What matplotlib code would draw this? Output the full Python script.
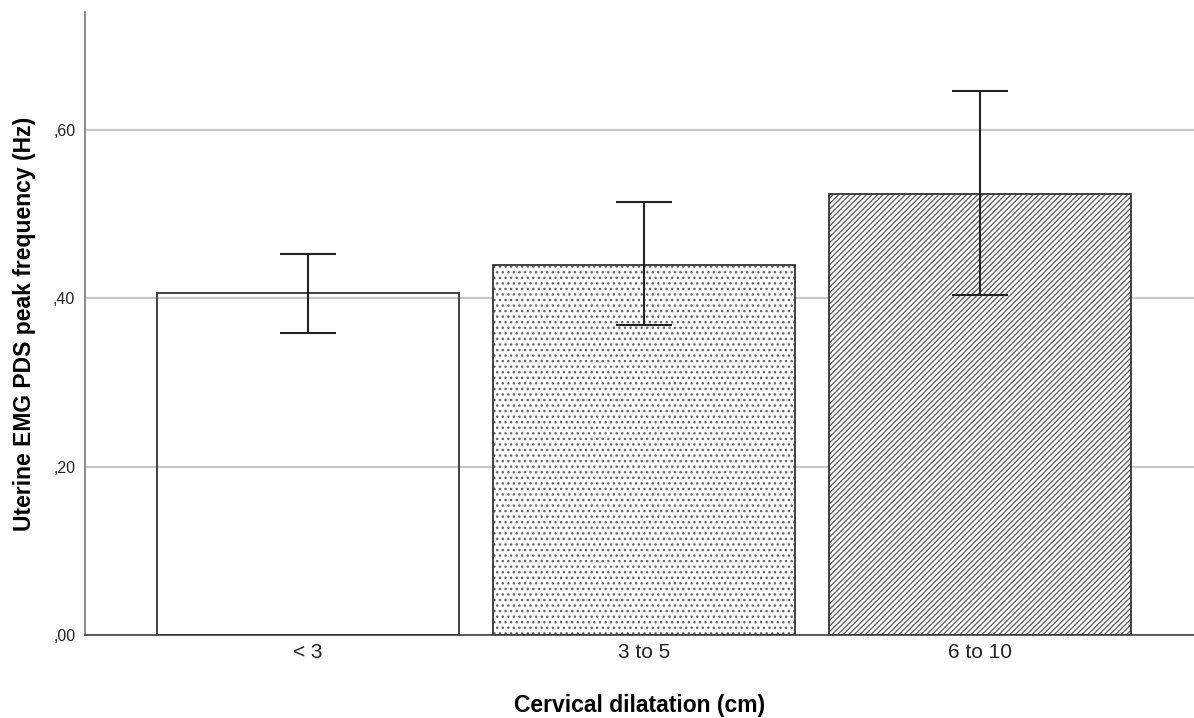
import numpy as np
import matplotlib
matplotlib.use("Agg")
import matplotlib.pyplot as plt

categories = ["< 3", "3 to 5", "6 to 10"]
means = [0.406, 0.440, 0.524]
err_low = [0.359, 0.368, 0.404]
err_high = [0.453, 0.515, 0.646]
hatches = [None, "...", "//////"]
yticks = [0.0, 0.2, 0.4, 0.6]
ytick_labels = [",00", ",20", ",40", ",60"]

plt.rcParams["font.family"] = ["Liberation Sans", "DejaVu Sans"]

fig = plt.figure(figsize=(11.94, 7.18), dpi=100)
ax = fig.add_axes([0.0712, 0.1156, 0.9288, 0.8674])

x = np.arange(len(categories))
ax.set_axisbelow(True)
ax.yaxis.grid(True, color="#c8c8c8", lw=1.5)

for xi, m, h in zip(x, means, hatches):
    if h:
        ax.bar(xi, m, width=0.9, facecolor="white", edgecolor="#666666", hatch=h, lw=0, zorder=2)
    ax.bar(xi, m, width=0.9, facecolor="none", edgecolor="#333333", lw=1.3, zorder=3)

yerr = [np.array(means) - np.array(err_low), np.array(err_high) - np.array(means)]
ax.errorbar(x, means, yerr=yerr, fmt="none", ecolor="#222222", elinewidth=1.5,
            capsize=20, capthick=1.5, zorder=4)

ax.set_xlim(-0.664, 2.637)
ax.set_ylim(0, 0.74)
ax.set_xticks(x)
ax.set_xticklabels(categories, fontsize=15, color="#222222")
ax.set_yticks(yticks)
ax.set_yticklabels(ytick_labels, fontsize=11.5, color="#222222")
ax.tick_params(axis="x", length=0, pad=6)
ax.tick_params(axis="y", length=0, pad=7)

for s in ["top", "right"]:
    ax.spines[s].set_visible(False)
ax.spines["left"].set_color("#777777")
ax.spines["bottom"].set_color("#444444")
ax.spines["left"].set_linewidth(1.2)
ax.spines["bottom"].set_linewidth(1.2)

ax.set_xlabel("Cervical dilatation (cm)", fontsize=16.5, fontweight="bold", labelpad=23)
ax.set_ylabel("Uterine EMG PDS peak frequency (Hz)", fontsize=16.5, fontweight="bold", labelpad=12)

fig.savefig("out.png", dpi=100)
